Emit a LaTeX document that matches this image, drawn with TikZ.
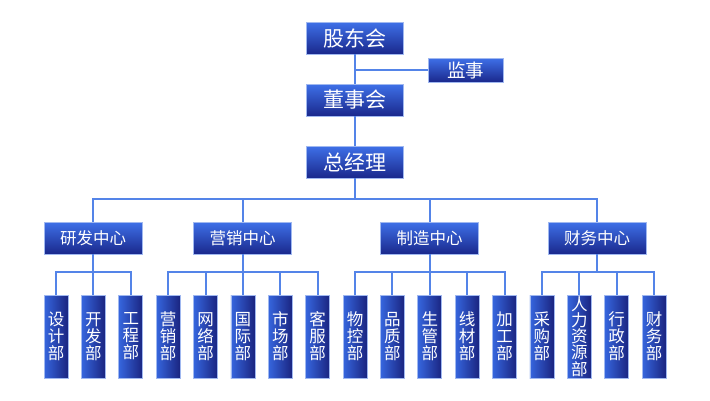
\documentclass[tikz,border=0pt]{standalone}
\usepackage{fontspec}
\newfontfamily\cjk{Noto Sans CJK SC}
\definecolor{boxtop}{RGB}{62,112,232}
\definecolor{boxbot}{RGB}{26,40,140}
\definecolor{boxleft}{RGB}{54,102,222}
\definecolor{boxright}{RGB}{26,36,128}
\definecolor{boxedge}{RGB}{160,184,240}
\definecolor{linkc}{RGB}{84,132,232}
\begin{document}
\begin{tikzpicture}[x=1pt,y=-1pt,
  hbox/.style={draw=boxedge,line width=0.8pt,top color=boxtop,bottom color=boxbot,text=white,inner sep=0pt,font=\cjk\fontsize{16.5}{18}\selectfont},
  topbox/.style={hbox,minimum width=97pt,minimum height=32pt,font=\cjk\fontsize{21}{23}\selectfont},
  sidebox/.style={hbox,minimum width=75pt,minimum height=24pt,font=\cjk\fontsize{18.5}{20}\selectfont},
  centerbox/.style={hbox,minimum width=98pt,minimum height=32pt},
  deptbox/.style={draw=boxedge,line width=0.8pt,left color=boxleft,right color=boxright,text=white,inner sep=0pt,minimum width=24pt,minimum height=83pt,align=center,font=\cjk\fontsize{16.5}{17}\selectfont},
  tightdept/.style={deptbox,font=\cjk\fontsize{16.5}{14.3}\selectfont},
  link/.style={draw=linkc,line width=2pt}
]
\useasboundingbox (0,0) rectangle (710,400);
\fill[white] (0,0) rectangle (710,400);

\node[topbox] (gd) at (354.5,38) {股东会};
\node[sidebox] (js) at (465.5,70) {监事};
\node[topbox] (dsh) at (354.5,100) {董事会};
\node[topbox] (zjl) at (354.5,162) {总经理};

\node[centerbox] (yf) at (93,238) {研发中心};
\node[centerbox] (yx) at (242.5,238) {营销中心};
\node[centerbox] (zz) at (429.5,238) {制造中心};
\node[centerbox] (cw) at (597,238) {财务中心};

\node[deptbox] (d1) at (56.0,336.5) {设\\计\\部};
\node[deptbox] (d2) at (93.4,336.5) {开\\发\\部};
\node[deptbox] (d3) at (130.8,336.5) {工\\程\\部};
\node[deptbox] (d4) at (168.1,336.5) {营\\销\\部};
\node[deptbox] (d5) at (205.5,336.5) {网\\络\\部};
\node[deptbox] (d6) at (242.9,336.5) {国\\际\\部};
\node[deptbox] (d7) at (280.3,336.5) {市\\场\\部};
\node[deptbox] (d8) at (317.6,336.5) {客\\服\\部};
\node[deptbox] (d9) at (355.0,336.5) {物\\控\\部};
\node[deptbox] (d10) at (392.4,336.5) {品\\质\\部};
\node[deptbox] (d11) at (429.8,336.5) {生\\管\\部};
\node[deptbox] (d12) at (467.1,336.5) {线\\材\\部};
\node[deptbox] (d13) at (504.5,336.5) {加\\工\\部};
\node[deptbox] (d14) at (541.9,336.5) {采\\购\\部};
\node[tightdept] (d15) at (579.3,336.5) {人\\力\\资\\源\\部};
\node[deptbox] (d16) at (616.6,336.5) {行\\政\\部};
\node[deptbox] (d17) at (654.0,336.5) {财\\务\\部};

\coordinate (bus) at (354.5,199);
\draw[link] (gd.south) -- (dsh.north);
\draw[link] (js.west) -- (js.west -| gd.south);
\draw[link] (dsh.south) -- (zjl.north);
\draw[link] (zjl.south) -- (bus);
\draw[link] (yf.north) -- (yf.north |- bus) -- (cw.north |- bus) -- (cw.north);
\draw[link] (yx.north) -- (yx.north |- bus);
\draw[link] (zz.north) -- (zz.north |- bus);

\foreach \c/\a/\b in {yf/1/3, yx/4/8, zz/9/13, cw/14/17}{
  \foreach \i in {\a,...,\b}{
    \draw[link] (\c.south) -- ++(0,18) -| (d\i.north);
  }
}
\end{tikzpicture}
\end{document}
